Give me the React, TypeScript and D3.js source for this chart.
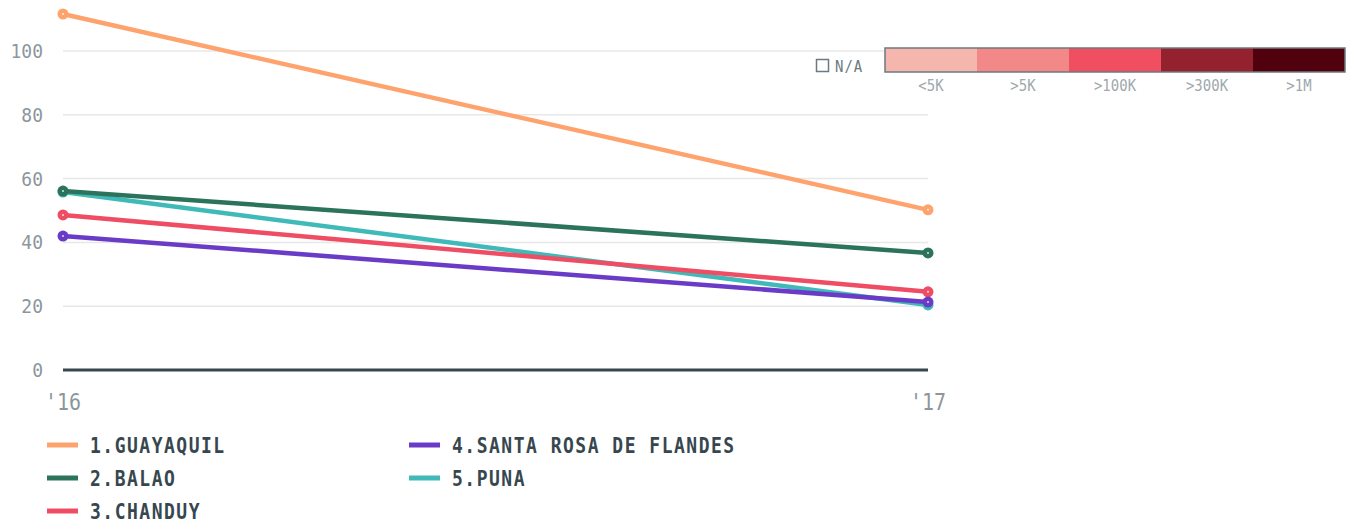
import * as d3 from 'd3';
import React from 'react';

const width = 1353;
const height = 523;
const margin = { top: 51, left: 63, right: 425, bottom: 153 };

const years = ["'16", "'17"];
const names = ['1.GUAYAQUIL', '2.BALAO', '3.CHANDUY', '4.SANTA ROSA DE FLANDES', '5.PUNA'];
const colors = ['#fea36e', '#2b735a', '#ee4d64', '#6a3bc7', '#3fbab9'];
const guayaquil = [111.6, 50.2];
const balao = [56.1, 36.7];
const chanduy = [48.6, 24.5];
const santaRosa = [42.0, 21.3];
const puna = [55.8, 20.4];
const yTicks = [0, 20, 40, 60, 80, 100];

const scaleLabels = ['<5K', '>5K', '>100K', '>300K', '>1M'];
const scaleColors = ['#f5b6ad', '#f28888', '#f04f62', '#93212e', '#51000e'];

const font = "'DejaVu Sans Mono', monospace";

const App = () => {
  const series = [guayaquil, balao, chanduy, santaRosa, puna];
  // draw order: puna under santa rosa at the right end
  const drawOrder = [0, 4, 1, 2, 3];

  const xScale = d3.scalePoint<string>().domain(years).range([margin.left, width - margin.right]);
  const yScale = d3.scaleLinear().domain([0, 100]).range([370, 51]);

  const line = d3.line<number>()
    .x((_, i) => xScale(years[i]) as number)
    .y(d => yScale(d));

  const legendX = d3.scaleBand<string>().domain(scaleLabels).range([885, 1345]);

  return (
    <svg width={width} height={height} style={{ display: 'block', position: 'absolute', left: 0, top: 0 }}>
      <g>
        {yTicks.slice(1).map(t => (
          <line key={t} x1={margin.left} x2={width - margin.right} y1={yScale(t)} y2={yScale(t)} stroke='#e8e8e8' strokeWidth='1.5' />
        ))}
        {yTicks.map(t => (
          <text key={t} transform={`translate(43,${yScale(t)}) scale(1,1.12)`} dy='0.35em' textAnchor='end' fill='#8c969b' fontFamily={font} fontSize='18'>{t}</text>
        ))}
        <line x1={margin.left} x2={width - margin.right} y1={yScale(0)} y2={yScale(0)} stroke='#37474f' strokeWidth='3' />
        {years.map(y => (
          <text key={y} transform={`translate(${xScale(y)},410) scale(1,1.12)`} textAnchor='middle' fill='#8c969b' fontFamily={font} fontSize='20'>{y}</text>
        ))}
      </g>
      <g>
        {drawOrder.map(i => (
          <g key={names[i]}>
            <path d={line(series[i]) || ''} fill='none' stroke={colors[i]} strokeWidth='4.5' />
            {series[i].map((v, j) => (
              <g key={j}>
                <circle cx={xScale(years[j])} cy={yScale(v)} r='5.5' fill={colors[i]} />
                <circle cx={xScale(years[j])} cy={yScale(v)} r='1' fill='#fff' opacity='0.8' />
              </g>
            ))}
          </g>
        ))}
      </g>
      <g>
        {names.map((n, i) => {
          const col = Math.floor(i / 3);
          const row = i % 3;
          const x = 47 + col * 362;
          const y = 445 + row * 33;
          return (
            <g key={n}>
              <line x1={x} x2={x + 31} y1={y} y2={y} stroke={colors[i]} strokeWidth='5' />
              <text transform={`translate(${x + 43},${y}) scale(1,1.2)`} dy='0.35em' fill='#37474f' fontFamily={font} fontWeight='bold' fontSize='18' letterSpacing='1.5'>{n}</text>
            </g>
          );
        })}
      </g>
      <g>
        <rect x={816.5} y={59.5} width={12} height={12} fill='none' stroke='#6b7a80' strokeWidth='1.5' />
        <text transform='translate(835,66) scale(1,1.15)' dy='0.35em' fill='#6b7a80' fontFamily={font} fontSize='14' letterSpacing='1'>N/A</text>
        {scaleLabels.map((l, i) => (
          <g key={l}>
            <rect x={legendX(l)} y={48} width={legendX.bandwidth()} height={24} fill={scaleColors[i]} />
            <text transform={`translate(${(legendX(l) as number) + legendX.bandwidth() / 2},85) scale(1,1.15)`} dy='0.35em' textAnchor='middle' fill='#a0a8ac' fontFamily={font} fontSize='14'>{l}</text>
          </g>
        ))}
        <rect x={885} y={48} width={460} height={24} fill='none' stroke='#6b7a80' strokeWidth='1.5' />
      </g>
    </svg>
  );
};

export default App;
